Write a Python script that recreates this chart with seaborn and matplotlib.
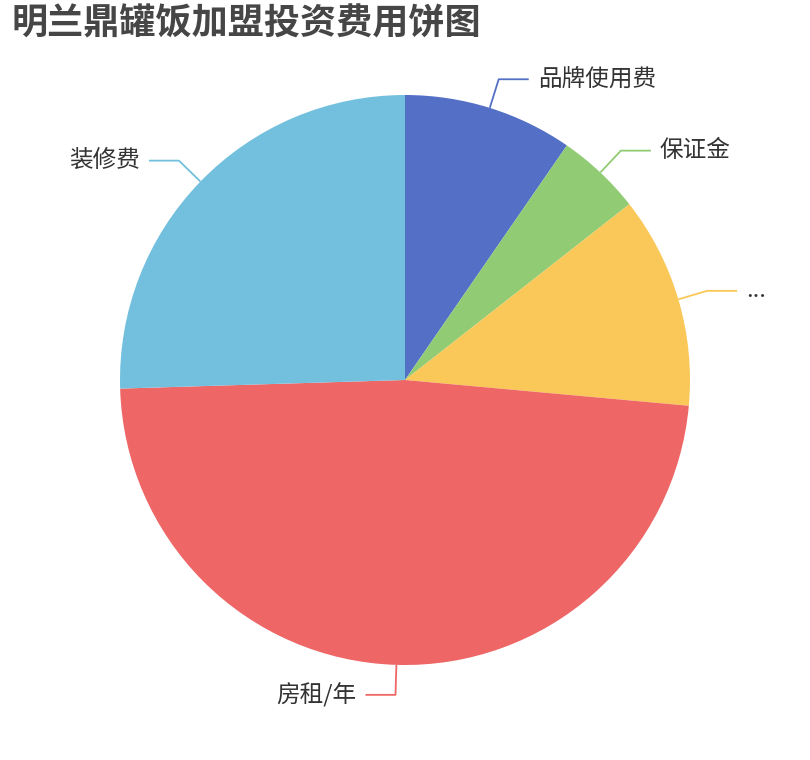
import numpy as np
import matplotlib.pyplot as plt
import seaborn as sns

# data (万元)
labels = ['品牌使用费', '保证金', '...', '房租/年', '装修费']
values = [2.0, 1.0, 2.5, 10.0, 5.3]
colors = ['#5470c6', '#91cc75', '#fac858', '#ee6666', '#73c0de']
title = '明兰鼎罐饭加盟投资费用饼图'

sns.set_style('white')
plt.rcParams['font.family'] = ['Noto Sans CJK SC', 'DejaVu Sans']

W, H = 810, 760
fig = plt.figure(figsize=(W / 100, H / 100), dpi=100)
ax = fig.add_axes([0, 0, 1, 1])

cx, cy, r = 405, H - 380, 285
wedges, _ = ax.pie(values, colors=colors, startangle=90, counterclock=False,
                   center=(cx, cy), radius=r, frame=True,
                   wedgeprops=dict(linewidth=0))
ax.set_xlim(0, W)
ax.set_ylim(0, H)
ax.set_aspect('equal')
ax.axis('off')

# leader lines, ECharts style: radial segment then horizontal segment
len1, len2, gap = 30, 30, 9
for w, lab, col in zip(wedges, labels, colors):
    theta = np.deg2rad((w.theta1 + w.theta2) / 2)
    ux, uy = np.cos(theta), np.sin(theta)
    x0, y0 = cx + r * ux, cy + r * uy
    x1, y1 = cx + (r + len1) * ux, cy + (r + len1) * uy
    s = 1 if ux >= 0 else -1
    x2 = x1 + s * len2
    ax.plot([x0, x1, x2], [y0, y1, y1], color=col, lw=1.3, solid_capstyle='butt')
    ax.text(x2 + s * gap, y1, lab, ha='left' if s > 0 else 'right', va='center',
            fontsize=17, color='#333333')

fig.text(12 / W, 1 - 24 / H, title, ha='left', va='center', fontsize=26,
         fontweight='heavy', color='#464646')

fig.savefig('out.png', dpi=100)
